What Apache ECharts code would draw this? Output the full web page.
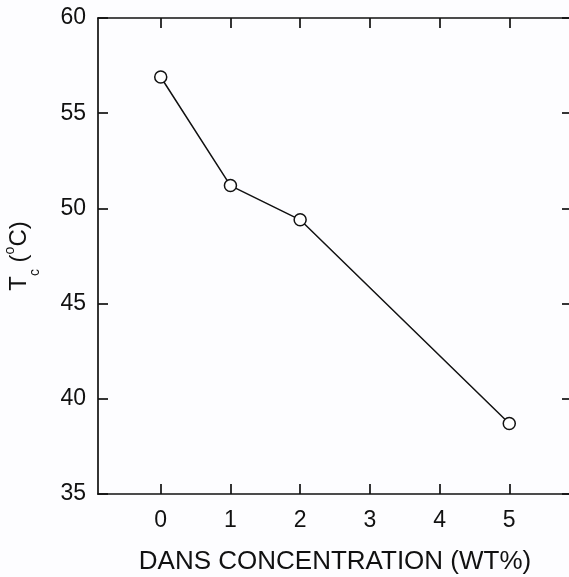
<!DOCTYPE html>
<html>
<head>
<meta charset="utf-8">
<script src="https://cdn.jsdelivr.net/npm/echarts@6/dist/echarts.min.js"></script>
<style>
  html, body { margin: 0; padding: 0; background: #fdfdff; }
  #chart { width: 569px; height: 577px; }
</style>
</head>
<body>
<div id="chart"></div>
<script>
// data
var concentration = [0, 1, 2, 5];
var tcValues = [56.9, 51.2, 49.4, 38.7];
var xTicks = [0, 1, 2, 3, 4, 5];

var font = 'Liberation Sans, Arial, sans-serif';
var lineStyle = { color: '#111', width: 1.7 };

var myChart = echarts.init(document.getElementById('chart'));
var option = {
    backgroundColor: '#fdfdff',
    animation: false,
    grid: { left: 98, right: -3, top: 18, bottom: 83, outerBoundsMode: 'none', containLabel: false },
    xAxis: [
    {
        type: 'value',
        position: 'bottom',
        min: -0.9,
        max: 5.9,
        name: 'DANS CONCENTRATION (WT%)',
        nameLocation: 'middle',
        nameGap: 55,
        nameTextStyle: { fontFamily: font, fontSize: 26, color: '#111' },
        axisLine: { show: true, onZero: false, lineStyle: lineStyle },
        axisTick: { inside: true, length: 10, customValues: xTicks, lineStyle: lineStyle },
        axisLabel: { customValues: xTicks, margin: 15, fontFamily: font, fontSize: 23, color: '#111' },
        splitLine: { show: false }
    },
    {
        type: 'value',
        position: 'top',
        min: -0.9,
        max: 5.9,
        axisLine: { show: true, onZero: false, lineStyle: lineStyle },
        axisTick: { inside: true, length: 10, customValues: xTicks, lineStyle: lineStyle },
        axisLabel: { show: false },
        splitLine: { show: false }
    }
    ],
    yAxis: [
    {
        type: 'value',
        position: 'left',
        min: 35,
        max: 60,
        interval: 5,
        name: '{main|T}{sub|c}{main| (}{sup|o}{main|C)}',
        nameLocation: 'middle',
        nameGap: 56,
        nameTextStyle: {
            rich: {
                main: { fontFamily: font, fontSize: 24, color: '#111', lineHeight: 45 },
                sub: { fontFamily: font, fontSize: 14, color: '#111', verticalAlign: 'bottom' },
                sup: { fontFamily: font, fontSize: 14, color: '#111', verticalAlign: 'top', padding: [6, 0, 0, 0] }
            }
        },
        axisLine: { show: true, onZero: false, lineStyle: lineStyle },
        axisTick: { inside: true, length: 10, lineStyle: lineStyle },
        axisLabel: { margin: 12, fontFamily: font, fontSize: 23, color: '#111' },
        splitLine: { show: false }
    },
    {
        type: 'value',
        position: 'right',
        min: 35,
        max: 60,
        interval: 5,
        axisLine: { show: true, onZero: false, lineStyle: lineStyle },
        axisTick: { inside: true, length: 10, lineStyle: lineStyle },
        axisLabel: { show: false },
        splitLine: { show: false }
    }
    ],
    series: [
    {
        type: 'line',
        xAxisIndex: 0,
        yAxisIndex: 0,
        data: concentration.map(function (c, i) { return [c, tcValues[i]]; }),
        symbol: 'circle',
        symbolSize: 12,
        lineStyle: { color: '#111', width: 1.5 },
        itemStyle: { color: '#fff', borderColor: '#111', borderWidth: 1.5 }
    }
    ]
};
myChart.setOption(option);
</script>
</body>
</html>
